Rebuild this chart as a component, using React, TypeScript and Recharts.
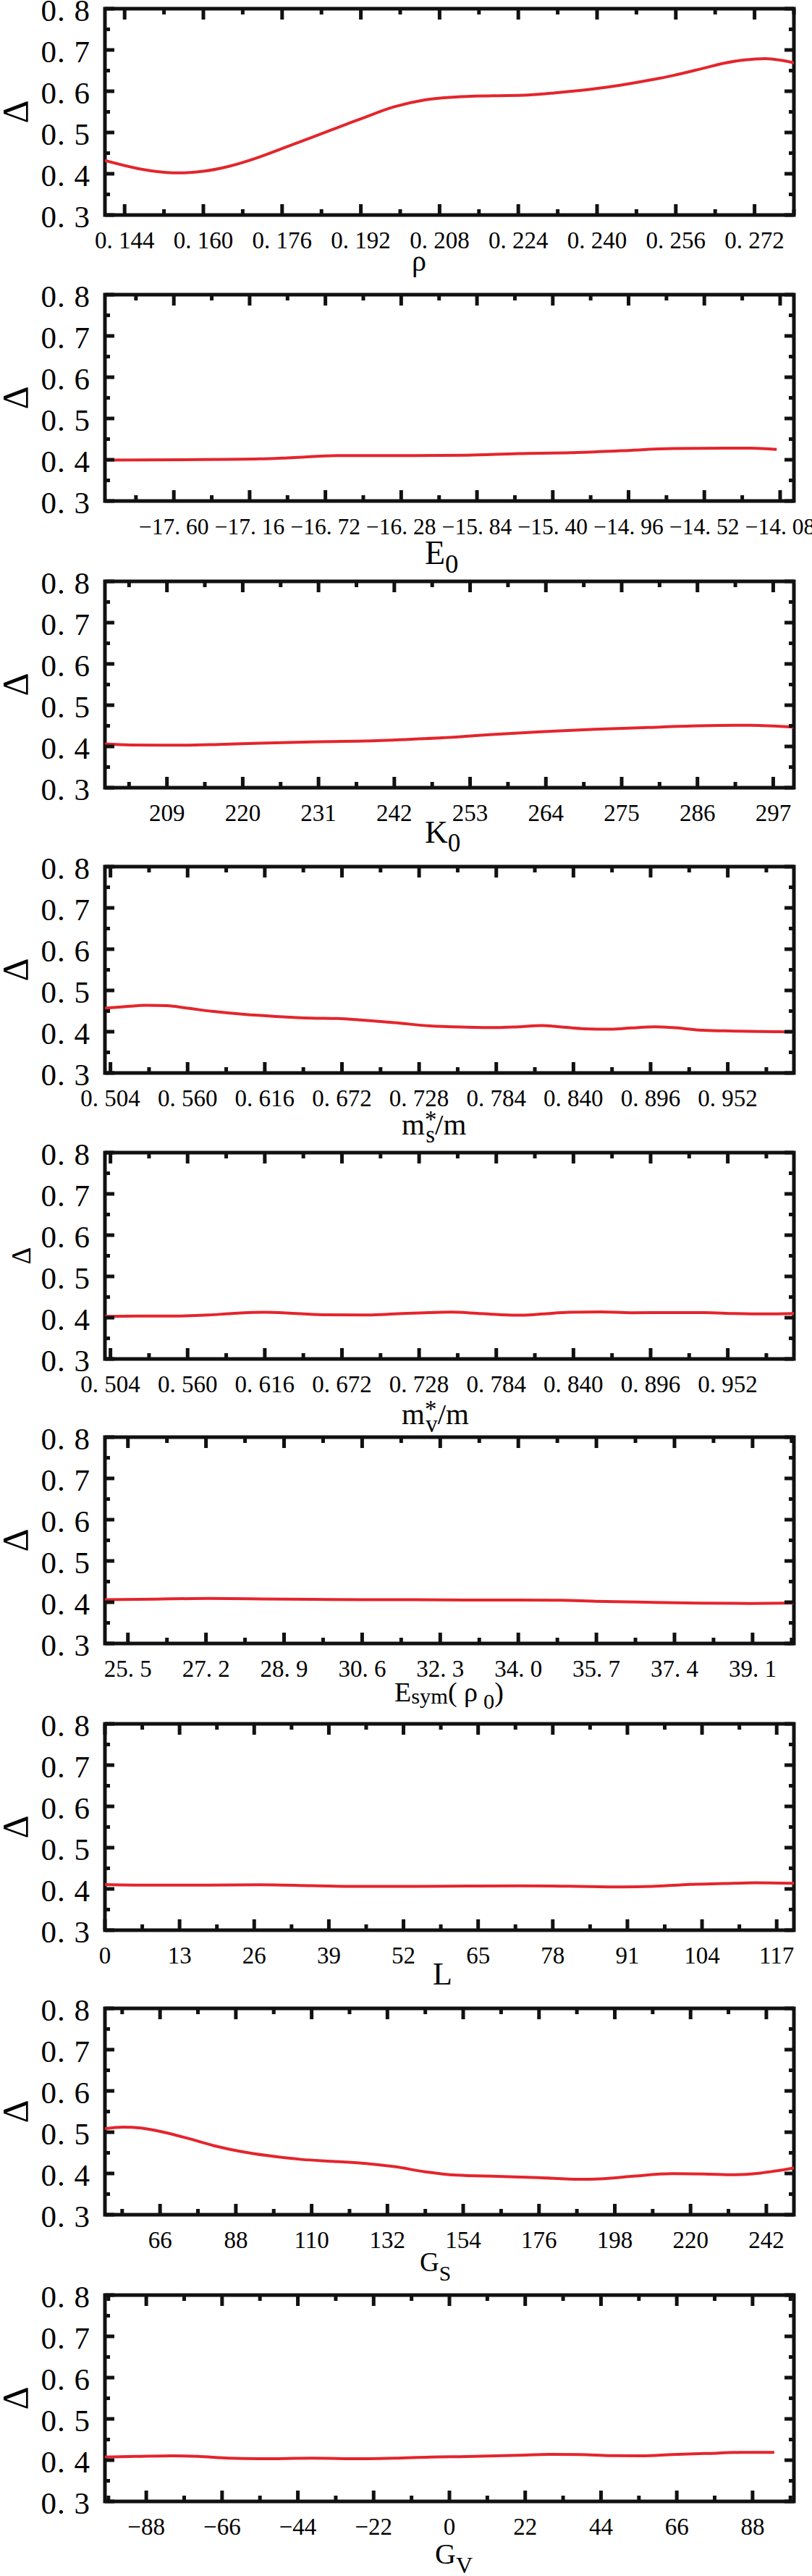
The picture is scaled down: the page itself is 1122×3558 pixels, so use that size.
import React from 'react';
import { LineChart, Line, XAxis, YAxis, ReferenceArea } from 'recharts';

const FONT = '"Liberation Serif", "DejaVu Serif", "Times New Roman", serif';
const W = 1122;
const H = 395;
const PAD_TOP = 20;
const PAD_BOTTOM = 40;
const PLOT_L = 145;
const PLOT_W = 952;
const PLOT_T = 12;
const PLOT_H = 285;
const RED = '#e4252c';
const INK = '#111';

// ---------- data ----------
const rhoX = [0.14, 0.1494, 0.1552, 0.16, 0.1652, 0.1715, 0.1762, 0.182, 0.1924, 0.1987, 0.205, 0.2113, 0.2187, 0.226, 0.2323, 0.2396, 0.2449, 0.2512, 0.2554, 0.2617, 0.2658, 0.27, 0.2742, 0.2774, 0.28];
const rhoY = [0.432, 0.407, 0.402, 0.406, 0.418, 0.441, 0.462, 0.488, 0.535, 0.562, 0.579, 0.586, 0.589, 0.591, 0.597, 0.606, 0.615, 0.628, 0.638, 0.656, 0.668, 0.676, 0.679, 0.675, 0.669];
const rhoTicks = [0.144, 0.16, 0.176, 0.192, 0.208, 0.224, 0.24, 0.256, 0.272];
const rhoTickLabels = ['0. 144', '0. 160', '0. 176', '0. 192', '0. 208', '0. 224', '0. 240', '0. 256', '0. 272'];

const e0X = [-18.0, -17.55, -17.1, -16.92, -16.65, -16.2, -15.9, -15.6, -15.3, -15.0, -14.7, -14.4, -14.25, -14.1];
const e0Y = [0.399, 0.4, 0.402, 0.405, 0.41, 0.41, 0.411, 0.415, 0.417, 0.422, 0.427, 0.428, 0.428, 0.425];
const e0Ticks = [-17.6, -17.16, -16.72, -16.28, -15.84, -15.4, -14.96, -14.52, -14.08];
const e0TickLabels = ['\u221217. 60', '\u221217. 16', '\u221216. 72', '\u221216. 28', '\u221215. 84', '\u221215. 40', '\u221214. 96', '\u221214. 52', '\u221214. 08'];

const k0X = [200, 203.7, 210.5, 216.5, 222.5, 230, 237.5, 245, 251, 256.2, 263.7, 271.2, 278.7, 286.1, 293.6, 300];
const k0Y = [0.406, 0.4035, 0.403, 0.405, 0.408, 0.411, 0.413, 0.418, 0.423, 0.429, 0.436, 0.4415, 0.446, 0.45, 0.4515, 0.447];
const k0Ticks = [209, 220, 231, 242, 253, 264, 275, 286, 297];
const k0TickLabels = ['209', '220', '231', '242', '253', '264', '275', '286', '297'];

const msX = [0.5, 0.515, 0.53, 0.545, 0.56, 0.579, 0.601, 0.624, 0.65, 0.669, 0.687, 0.71, 0.736, 0.762, 0.785, 0.8, 0.817, 0.83, 0.848, 0.867, 0.882, 0.899, 0.912, 0.931, 0.949, 0.968, 0.987, 1.0];
const msY = [0.457, 0.461, 0.464, 0.463, 0.457, 0.449, 0.442, 0.437, 0.433, 0.432, 0.428, 0.422, 0.414, 0.411, 0.41, 0.412, 0.415, 0.412, 0.407, 0.406, 0.409, 0.412, 0.41, 0.404, 0.402, 0.401, 0.4, 0.399];

const mvX = [0.5, 0.5225, 0.549, 0.575, 0.594, 0.616, 0.639, 0.661, 0.687, 0.71, 0.732, 0.751, 0.77, 0.788, 0.803, 0.818, 0.837, 0.86, 0.882, 0.912, 0.935, 0.957, 0.979, 1.0];
const mvY = [0.403, 0.404, 0.404, 0.4065, 0.4106, 0.413, 0.41, 0.407, 0.4065, 0.409, 0.412, 0.4135, 0.4106, 0.407, 0.406, 0.409, 0.413, 0.414, 0.412, 0.4124, 0.4124, 0.41, 0.409, 0.41];

const massTicks = [0.504, 0.56, 0.616, 0.672, 0.728, 0.784, 0.84, 0.896, 0.952];
const massTickLabels = ['0. 504', '0. 560', '0. 616', '0. 672', '0. 728', '0. 784', '0. 840', '0. 896', '0. 952'];

const esymX = [25.0, 26.12, 27.25, 28.37, 29.5, 30.6, 31.74, 32.87, 34.0, 34.9, 35.67, 36.8, 37.92, 39.04, 40.0];
const esymY = [0.406, 0.4076, 0.409, 0.408, 0.407, 0.406, 0.406, 0.4053, 0.4053, 0.4047, 0.4024, 0.4, 0.398, 0.397, 0.398];
const esymTicks = [25.5, 27.2, 28.9, 30.6, 32.3, 34.0, 35.7, 37.4, 39.1];
const esymTickLabels = ['25. 5', '27. 2', '28. 9', '30. 6', '32. 3', '34. 0', '35. 7', '37. 4', '39. 1'];

const lX = [0, 9, 18, 27, 36, 45, 54, 63, 72, 81, 90, 95.3, 100.7, 107.9, 113.3, 120];
const lY = [0.4106, 0.409, 0.409, 0.41, 0.408, 0.406, 0.406, 0.407, 0.4076, 0.4065, 0.4047, 0.406, 0.41, 0.413, 0.4147, 0.4135];
const lTicks = [0, 13, 26, 39, 52, 65, 78, 91, 104, 117];
const lTickLabels = ['0', '13', '26', '39', '52', '65', '78', '91', '104', '117'];

const gsX = [50, 55.2, 60.5, 66.5, 74, 81.5, 89, 98, 107, 116, 125, 134, 143, 152, 163.9, 175.8, 187.8, 193.8, 202.8, 214.8, 223.8, 232.8, 240.3, 250];
const gsY = [0.5088, 0.5124, 0.51, 0.501, 0.4853, 0.4676, 0.454, 0.4424, 0.434, 0.4294, 0.4247, 0.4165, 0.404, 0.396, 0.393, 0.39, 0.386, 0.387, 0.393, 0.3994, 0.3988, 0.397, 0.401, 0.413];
const gsTicks = [66, 88, 110, 132, 154, 176, 198, 220, 242];
const gsTickLabels = ['66', '88', '110', '132', '154', '176', '198', '220', '242'];

const gvX = [-100, -91, -80.5, -73, -64, -55, -40, -25, -16, -5.6, 4.9, 19.9, 28.9, 37.8, 46.8, 55.8, 64.8, 75.3, 84.3, 94.3];
const gvY = [0.4076, 0.409, 0.4105, 0.409, 0.4047, 0.4035, 0.4047, 0.4035, 0.4047, 0.4076, 0.4088, 0.4117, 0.414, 0.4135, 0.411, 0.4105, 0.4135, 0.4164, 0.4187, 0.4187];
const gvTicks = [-88, -66, -44, -22, 0, 22, 44, 66, 88];
const gvTickLabels = ['\u221288', '\u221266', '\u221244', '\u221222', '0', '22', '44', '66', '88'];

const yTicks = [0.3, 0.4, 0.5, 0.6, 0.7, 0.8];
const yTickLabels = ['0. 3', '0. 4', '0. 5', '0. 6', '0. 7', '0. 8'];
const yMinorTicks = [0.35, 0.45, 0.55, 0.65, 0.75];
const yAllTicks = [...yTicks, ...yMinorTicks].sort((a, b) => a - b);

// ---------- helpers ----------
function minorTicks(majors: number[], domain: [number, number]) {
  const step = majors[1] - majors[0];
  const eps = Math.abs(step) * 1e-3;
  const out: number[] = [];
  for (let v = majors[0] - step / 2; v <= domain[1] + eps; v += step) {
    if (v >= domain[0] - eps) out.push(+v.toFixed(6));
  }
  return out;
}

type Part = { t: string; s?: number; f?: number; dx?: number };
type Panel = {
  key: string;
  xs: number[];
  ys: number[];
  domain: [number, number];
  majors: number[];
  labels: string[];
  top: number;
  tickSize: number;
  parts: Part[];
  labelSize: number;
  labelX: number;
  labelDy: number;
  deltaSize: number;
  deltaX: number;
};

const SUB = 12;
const panelsBase: Panel[] = [
  { key: 'rho', xs: rhoX, ys: rhoY, domain: [0.14, 0.28], majors: rhoTicks, labels: rhoTickLabels, top: 0, tickSize: 33,
    parts: [{ t: '\u03c1' }], labelSize: 40, labelX: 569, labelDy: 77, deltaSize: 50, deltaX: 21 },
  { key: 'e0', xs: e0X, ys: e0Y, domain: [-18, -14], majors: e0Ticks, labels: e0TickLabels, top: 395, tickSize: 31.5,
    parts: [{ t: 'E' }, { t: '0', s: SUB, f: 0.8 }], labelSize: 46, labelX: 587, labelDy: 87, deltaSize: 50, deltaX: 21 },
  { key: 'k0', xs: k0X, ys: k0Y, domain: [200, 300], majors: k0Ticks, labels: k0TickLabels, top: 791, tickSize: 33,
    parts: [{ t: 'K' }, { t: '0', s: SUB, f: 0.8 }], labelSize: 44, labelX: 587, labelDy: 76, deltaSize: 50, deltaX: 21 },
  { key: 'ms', xs: msX, ys: msY, domain: [0.5, 1.0], majors: massTicks, labels: massTickLabels, top: 1185, tickSize: 33,
    parts: [{ t: 'm' }, { t: '*', s: -10, f: 0.8 }, { t: 's', s: 11, f: 0.8, dx: -15 }, { t: '/m' }], labelSize: 41, labelX: 555, labelDy: 85, deltaSize: 50, deltaX: 21 },
  { key: 'mv', xs: mvX, ys: mvY, domain: [0.5, 1.0], majors: massTicks, labels: massTickLabels, top: 1580, tickSize: 33,
    parts: [{ t: 'm' }, { t: '*', s: -10, f: 0.8 }, { t: 'v', s: 11, f: 0.8, dx: -15 }, { t: '/m' }], labelSize: 41, labelX: 555, labelDy: 90, deltaSize: 37, deltaX: 29 },
  { key: 'esym', xs: esymX, ys: esymY, domain: [25, 40], majors: esymTicks, labels: esymTickLabels, top: 1973, tickSize: 33,
    parts: [{ t: 'E' }, { t: 'sym', s: 3, f: 0.8 }, { t: '( \u03c1' }, { t: '0', s: 10, f: 0.8, dx: 8 }, { t: ')' }], labelSize: 38, labelX: 545, labelDy: 80, deltaSize: 50, deltaX: 21 },
  { key: 'L', xs: lX, ys: lY, domain: [0, 120], majors: lTicks, labels: lTickLabels, top: 2369, tickSize: 33,
    parts: [{ t: 'L' }], labelSize: 44, labelX: 598, labelDy: 75, deltaSize: 50, deltaX: 21 },
  { key: 'gs', xs: gsX, ys: gsY, domain: [50, 250], majors: gsTicks, labels: gsTickLabels, top: 2762, tickSize: 33,
    parts: [{ t: 'G' }, { t: 'S', s: 13, f: 0.8 }], labelSize: 37, labelX: 580, labelDy: 78, deltaSize: 50, deltaX: 21 },
  { key: 'gv', xs: gvX, ys: gvY, domain: [-100, 100], majors: gvTicks, labels: gvTickLabels, top: 3158, tickSize: 33,
    parts: [{ t: 'G' }, { t: 'V', s: 13, f: 0.8 }], labelSize: 40, labelX: 601, labelDy: 86, deltaSize: 50, deltaX: 21 },
];

const panels = panelsBase.map((p) => ({
  ...p,
  rows: p.xs.map((x, i) => ({ x, y: p.ys[i] })),
  allTicks: [...p.majors, ...minorTicks(p.majors, p.domain)].sort((a, b) => a - b),
}));

function majorIndex(majors: number[], v: number) {
  const step = Math.abs(majors[1] - majors[0]);
  return majors.findIndex((m) => Math.abs(m - v) < step * 1e-3);
}

function makeXTick(p: Panel) {
  return (props: any) => {
    const { x, y, payload } = props;
    const idx = majorIndex(p.majors, payload.value);
    const major = idx >= 0;
    const len = major ? 15 : 8;
    const top = y - PLOT_H;
    return (
      <g>
        <line x1={x} y1={y} x2={x} y2={y - len} stroke={INK} strokeWidth={5} />
        <line x1={x} y1={top} x2={x} y2={top + len} stroke={INK} strokeWidth={5} />
        {major && (
          <text x={x} y={y + 46} textAnchor="middle" fontSize={p.tickSize} fontFamily={FONT} fill="#000">
            {p.labels[idx]}
          </text>
        )}
      </g>
    );
  };
}

function YTick(props: any) {
  const { x, y, payload } = props;
  const idx = majorIndex(yTicks, payload.value);
  const major = idx >= 0;
  const len = major ? 13 : 7;
  const right = x + PLOT_W;
  return (
    <g>
      <line x1={x} y1={y} x2={x + len} y2={y} stroke={INK} strokeWidth={5} />
      <line x1={right} y1={y} x2={right - len} y2={y} stroke={INK} strokeWidth={5} />
      {major && (
        <text x={x - 20} y={y + 17} textAnchor="end" fontSize={43} fontFamily={FONT} fill="#000" letterSpacing={1}>
          {yTickLabels[idx]}
        </text>
      )}
    </g>
  );
}

function XLabel(props: any) {
  const { viewBox, spec } = props;
  const bottom = viewBox && typeof viewBox.y === 'number' ? viewBox.y : PAD_TOP + PLOT_T + PLOT_H;
  const base = bottom + spec.labelDy;
  let cur = 0;
  return (
    <text x={spec.labelX} y={base} fontSize={spec.labelSize} fontFamily={FONT} fill="#000">
      {spec.parts.map((pt: Part, i: number) => {
        const target = pt.s || 0;
        const dy = target - cur;
        cur = target;
        return (
          <tspan key={i} dy={dy} dx={pt.dx || 0} fontSize={spec.labelSize * (pt.f || 1)}>
            {pt.t}
          </tspan>
        );
      })}
    </text>
  );
}

function YLabel(props: any) {
  const { viewBox, size, cx } = props;
  const y0 = viewBox && typeof viewBox.y === 'number' ? viewBox.y : PAD_TOP + PLOT_T;
  const h = viewBox && typeof viewBox.height === 'number' ? viewBox.height : PLOT_H;
  const cy = y0 + h / 2;
  return (
    <text
      x={cx}
      y={cy}
      transform={`rotate(-90 ${cx} ${cy})`}
      textAnchor="middle"
      dominantBaseline="central"
      fontSize={size}
      fontFamily={FONT}
      fill="#000"
    >
      {'\u0394'}
    </text>
  );
}

export default function App() {
  return (
    <div style={{ position: 'absolute', left: 0, top: 0, width: W, height: 3558, background: '#fff', overflow: 'hidden' }}>
      {panels.map((p) => (
        <div
          key={p.key}
          style={{ position: 'absolute', left: 0, top: p.top - PAD_TOP, width: W, height: H + PAD_TOP + PAD_BOTTOM }}
        >
          <LineChart
            width={W}
            height={H + PAD_TOP + PAD_BOTTOM}
            data={p.rows}
            margin={{ top: PAD_TOP + PLOT_T, right: W - PLOT_L - PLOT_W, bottom: 0, left: 0 }}
            style={{ overflow: 'visible' }}
          >
            <XAxis
              dataKey="x"
              type="number"
              domain={p.domain}
              ticks={p.allTicks}
              interval={0}
              allowDataOverflow
              tick={makeXTick(p)}
              tickLine={false}
              axisLine={false}
              tickSize={0}
              tickMargin={0}
              height={H - PLOT_T - PLOT_H + PAD_BOTTOM}
              label={<XLabel spec={p} />}
            />
            <YAxis
              type="number"
              domain={[0.3, 0.8]}
              ticks={yAllTicks}
              interval={0}
              allowDataOverflow
              tick={<YTick />}
              tickLine={false}
              axisLine={false}
              tickSize={0}
              tickMargin={0}
              width={PLOT_L}
              label={<YLabel size={p.deltaSize} cx={p.deltaX} />}
            />
            <ReferenceArea
              x1={p.domain[0]}
              x2={p.domain[1]}
              y1={0.3}
              y2={0.8}
              fill="none"
              fillOpacity={0}
              stroke={INK}
              strokeWidth={5}
              ifOverflow="visible"
            />
            <Line
              type="monotone"
              dataKey="y"
              stroke={RED}
              strokeWidth={4}
              dot={false}
              activeDot={false}
              isAnimationActive={false}
            />
          </LineChart>
        </div>
      ))}
    </div>
  );
}
